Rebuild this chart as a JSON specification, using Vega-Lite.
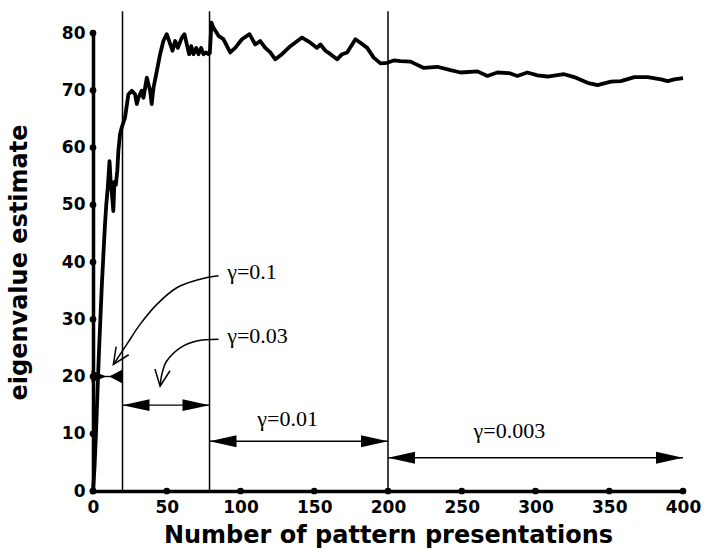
{
  "$schema": "https://vega.github.io/schema/vega-lite/v6.json",
  "width": 590,
  "height": 458,
  "padding": {"left": 7, "top": 10, "right": 5, "bottom": 5},
  "background": "white",
  "config": {
    "view": {"stroke": null},
    "axis": {
      "grid": false,
      "ticks": false,
      "domainColor": "black",
      "domainWidth": 3.5,
      "labelColor": "black",
      "labelFont": "DejaVu Sans",
      "labelFontWeight": "bold",
      "labelFontSize": 17,
      "labelFlush": false,
      "labelOverlap": false,
      "labelPadding": 8,
      "titleColor": "black",
      "titleFont": "DejaVu Sans",
      "titleFontWeight": "bold",
      "titleFontSize": 24
    }
  },
  "datasets": {
    "curve": [
      {"t": 0, "v": 0}, {"t": 1, "v": 4}, {"t": 2, "v": 10}, {"t": 3, "v": 17}, {"t": 4, "v": 24},
      {"t": 5, "v": 30}, {"t": 6, "v": 36}, {"t": 7, "v": 41}, {"t": 8, "v": 46}, {"t": 9, "v": 50},
      {"t": 10, "v": 53}, {"t": 11.2, "v": 57.6}, {"t": 12, "v": 54}, {"t": 12.8, "v": 52},
      {"t": 13.8, "v": 48.9}, {"t": 14.5, "v": 54}, {"t": 15.5, "v": 53.5}, {"t": 16.5, "v": 56},
      {"t": 17.2, "v": 59.4}, {"t": 18.3, "v": 62.3}, {"t": 19.5, "v": 63.5}, {"t": 21.7, "v": 65.2},
      {"t": 24, "v": 69.3}, {"t": 26.3, "v": 69.9}, {"t": 28.5, "v": 69.3}, {"t": 29.7, "v": 67.6},
      {"t": 30.8, "v": 68.7}, {"t": 33, "v": 69.9}, {"t": 34.2, "v": 68.7}, {"t": 36.5, "v": 72.2},
      {"t": 38.7, "v": 69.9}, {"t": 39.8, "v": 67.6}, {"t": 41, "v": 70.4}, {"t": 43.3, "v": 73.4},
      {"t": 45.5, "v": 76.3}, {"t": 47.7, "v": 78.6}, {"t": 50, "v": 79.8}, {"t": 52.3, "v": 78.1},
      {"t": 53.9, "v": 76.9}, {"t": 55.7, "v": 78.6}, {"t": 57.5, "v": 77.4}, {"t": 60.2, "v": 79.2},
      {"t": 62, "v": 79.8}, {"t": 63.6, "v": 78}, {"t": 65.2, "v": 76.3}, {"t": 66.6, "v": 77.7},
      {"t": 68.1, "v": 76.3}, {"t": 70, "v": 77.4}, {"t": 71.5, "v": 76.3}, {"t": 73.3, "v": 77.4},
      {"t": 74.9, "v": 76.3}, {"t": 76.5, "v": 76.6}, {"t": 78.3, "v": 76.3}, {"t": 79.2, "v": 76.5},
      {"t": 80.3, "v": 81.8}, {"t": 81.7, "v": 80.9}, {"t": 85.1, "v": 79.5}, {"t": 88.5, "v": 78.9},
      {"t": 93, "v": 76.6}, {"t": 96.4, "v": 77.4}, {"t": 101, "v": 78.9}, {"t": 106.1, "v": 79.8},
      {"t": 110, "v": 78}, {"t": 113.4, "v": 78.6}, {"t": 116.8, "v": 77.4}, {"t": 120.2, "v": 76.6},
      {"t": 123.6, "v": 75.4}, {"t": 128.1, "v": 76.3}, {"t": 133.8, "v": 77.7}, {"t": 141.7, "v": 79.2},
      {"t": 147.4, "v": 78.3}, {"t": 151.9, "v": 77.4}, {"t": 154.2, "v": 78}, {"t": 157.6, "v": 76.9},
      {"t": 161, "v": 76.3}, {"t": 165.5, "v": 75.4}, {"t": 168.9, "v": 76.3}, {"t": 172.3, "v": 76.6},
      {"t": 177.9, "v": 78.9}, {"t": 181.3, "v": 78.3}, {"t": 185.9, "v": 77.4}, {"t": 190.3, "v": 75.7},
      {"t": 194.9, "v": 74.7}, {"t": 199.5, "v": 74.8}, {"t": 203.9, "v": 75.2}, {"t": 208.5, "v": 75.1},
      {"t": 215.3, "v": 75}, {"t": 224.3, "v": 73.9}, {"t": 233.4, "v": 74.1}, {"t": 242.4, "v": 73.5},
      {"t": 249.2, "v": 73.1}, {"t": 260.6, "v": 73.3}, {"t": 267.4, "v": 72.5}, {"t": 274.2, "v": 73.1},
      {"t": 282, "v": 73}, {"t": 287.7, "v": 72.5}, {"t": 294.5, "v": 73.1}, {"t": 301.3, "v": 72.6},
      {"t": 308.1, "v": 72.4}, {"t": 319.4, "v": 72.8}, {"t": 326.2, "v": 72.3}, {"t": 335.3, "v": 71.3},
      {"t": 342.1, "v": 70.9}, {"t": 351.1, "v": 71.5}, {"t": 357.9, "v": 71.6}, {"t": 367, "v": 72.3},
      {"t": 376, "v": 72.3}, {"t": 385.1, "v": 71.9}, {"t": 389.6, "v": 71.6}, {"t": 394.1, "v": 71.9},
      {"t": 400, "v": 72.1}
    ],
    "vlines": [{"t": 20}, {"t": 79}, {"t": 200}],
    "arcs": [
      {"g": "a1", "i": 0, "t": 85.1, "v": 37.6}, {"g": "a1", "i": 1, "t": 72.7, "v": 37.0},
      {"g": "a1", "i": 2, "t": 56.8, "v": 35.5}, {"g": "a1", "i": 3, "t": 43.3, "v": 32.6},
      {"g": "a1", "i": 4, "t": 31.9, "v": 29.1}, {"g": "a1", "i": 5, "t": 22.9, "v": 25.6},
      {"g": "a1", "i": 6, "t": 13.8, "v": 22.1},
      {"g": "a2", "i": 0, "t": 85.1, "v": 26.5}, {"g": "a2", "i": 1, "t": 70.4, "v": 26.2},
      {"g": "a2", "i": 2, "t": 59.1, "v": 25.0}, {"g": "a2", "i": 3, "t": 50.0, "v": 22.7},
      {"g": "a2", "i": 4, "t": 46.7, "v": 20.4}, {"g": "a2", "i": 5, "t": 45.5, "v": 18.3}
    ],
    "wings": [
      {"g": "h1", "i": 0, "t": 24.2, "v": 23.8}, {"g": "h1", "i": 1, "t": 13.8, "v": 22.1}, {"g": "h1", "i": 2, "t": 15.7, "v": 25.2},
      {"g": "h2", "i": 0, "t": 52.2, "v": 21.0}, {"g": "h2", "i": 1, "t": 45.5, "v": 18.3}, {"g": "h2", "i": 2, "t": 42.0, "v": 21.3}
    ],
    "spans": [
      {"a": 0, "b": 20, "v": 20},
      {"a": 20, "b": 79, "v": 15},
      {"a": 79, "b": 200, "v": 8.7},
      {"a": 200, "b": 400, "v": 5.8}
    ],
    "heads": [
      {"t": 9, "v": 20, "dir": "bR"}, {"t": 11, "v": 20, "dir": "bL"},
      {"t": 20, "v": 15, "dir": "L"}, {"t": 79, "v": 15, "dir": "R"},
      {"t": 79, "v": 8.7, "dir": "L"}, {"t": 200, "v": 8.7, "dir": "R"},
      {"t": 200, "v": 5.8, "dir": "L"}, {"t": 400, "v": 5.8, "dir": "R"}
    ],
    "labels": [
      {"t": 91, "v": 38.3, "txt": "γ=0.1"},
      {"t": 91, "v": 27.1, "txt": "γ=0.03"},
      {"t": 111.4, "v": 12.6, "txt": "γ=0.01"},
      {"t": 258, "v": 10.5, "txt": "γ=0.003"}
    ],
    "xt": [{"t": 0}, {"t": 50}, {"t": 100}, {"t": 150}, {"t": 200}, {"t": 250}, {"t": 300}, {"t": 350}, {"t": 400}],
    "yt": [{"v": 0}, {"v": 10}, {"v": 20}, {"v": 30}, {"v": 40}, {"v": 50}, {"v": 60}, {"v": 70}, {"v": 80}]
  },
  "layer": [
    {
      "data": {"name": "vlines"},
      "mark": {"type": "rule", "color": "black", "strokeWidth": 1.5},
      "encoding": {
        "x": {"field": "t", "type": "quantitative", "scale": {"domain": [0, 400], "nice": false},
              "axis": {"values": [0, 50, 100, 150, 200, 250, 300, 350, 400], "title": "Number of pattern presentations", "titlePadding": 8}},
        "y": {"datum": 0, "type": "quantitative", "scale": {"domain": [0, 80], "nice": false},
              "axis": {"values": [0, 10, 20, 30, 40, 50, 60, 70, 80], "title": "eigenvalue estimate", "titlePadding": 30}},
        "y2": {"datum": 83.8}
      }
    },
    {
      "data": {"name": "curve"},
      "mark": {"type": "line", "color": "black", "strokeWidth": 3.8, "strokeJoin": "round"},
      "encoding": {
        "x": {"field": "t", "type": "quantitative"},
        "y": {"field": "v", "type": "quantitative"}
      }
    },
    {
      "data": {"name": "arcs"},
      "mark": {"type": "line", "color": "black", "strokeWidth": 1.5, "interpolate": "cardinal"},
      "encoding": {
        "x": {"field": "t", "type": "quantitative"},
        "y": {"field": "v", "type": "quantitative"},
        "detail": {"field": "g"},
        "order": {"field": "i"}
      }
    },
    {
      "data": {"name": "wings"},
      "mark": {"type": "line", "color": "black", "strokeWidth": 1.5},
      "encoding": {
        "x": {"field": "t", "type": "quantitative"},
        "y": {"field": "v", "type": "quantitative"},
        "detail": {"field": "g"},
        "order": {"field": "i"}
      }
    },
    {
      "data": {"name": "spans"},
      "mark": {"type": "rule", "color": "black", "strokeWidth": 1.4},
      "encoding": {
        "x": {"field": "a", "type": "quantitative"},
        "x2": {"field": "b"},
        "y": {"field": "v", "type": "quantitative"}
      }
    },
    {
      "data": {"name": "heads"},
      "mark": {"type": "point", "filled": true, "color": "black", "opacity": 1, "size": 729, "strokeWidth": 0},
      "encoding": {
        "x": {"field": "t", "type": "quantitative"},
        "y": {"field": "v", "type": "quantitative"},
        "shape": {"field": "dir", "type": "nominal", "legend": null,
          "scale": {"domain": ["L", "R", "bL", "bR"],
                    "range": ["M0,0L2,-0.44L2,0.44Z", "M0,0L-2,-0.44L-2,0.44Z", "M0,0L0.95,-0.5L0.95,0.5Z", "M0,0L-1.1,-0.45L-1.1,0.45Z"]}}
      }
    },
    {
      "data": {"name": "xt"},
      "mark": {"type": "point", "filled": true, "color": "black", "opacity": 1, "size": 45, "shape": "circle"},
      "encoding": {
        "x": {"field": "t", "type": "quantitative"},
        "y": {"datum": 0}
      }
    },
    {
      "data": {"name": "yt"},
      "mark": {"type": "point", "filled": true, "color": "black", "opacity": 1, "size": 45, "shape": "circle"},
      "encoding": {
        "x": {"datum": 0},
        "y": {"field": "v", "type": "quantitative"}
      }
    },
    {
      "data": {"name": "labels"},
      "mark": {"type": "text", "align": "left", "baseline": "middle", "font": "Liberation Serif", "fontSize": 22, "color": "black"},
      "encoding": {
        "x": {"field": "t", "type": "quantitative"},
        "y": {"field": "v", "type": "quantitative"},
        "text": {"field": "txt"}
      }
    }
  ]
}
